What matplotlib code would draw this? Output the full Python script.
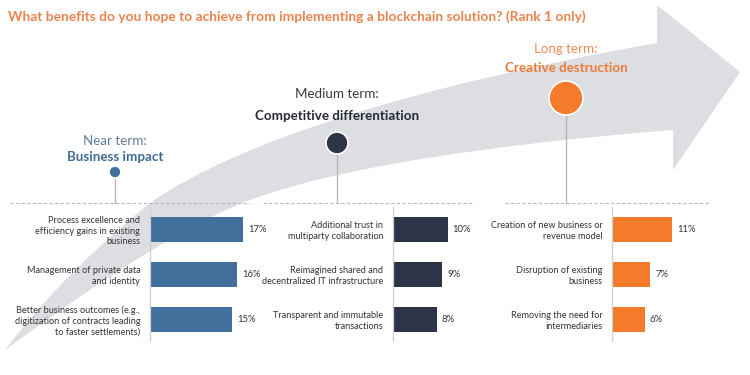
import matplotlib
matplotlib.use("Agg")
import matplotlib.pyplot as plt
from matplotlib.path import Path
from matplotlib.patches import PathPatch, Circle

# ---------------- data ----------------
title = "What benefits do you hope to achieve from implementing a blockchain solution? (Rank 1 only)"
stage_titles = ["Near term:", "Medium term:", "Long term:"]
stage_names = ["Business impact", "Competitive differentiation", "Creative destruction"]

near_labels = ["Process excellence and\nefficiency gains in existing\nbusiness",
               "Management of private data\nand identity",
               "Better business outcomes (e.g.,\ndigitization of contracts leading\nto faster settlements)"]
near_values = [17, 16, 15]

mid_labels = ["Additional trust in\nmultiparty collaboration",
              "Reimagined shared and\ndecentralized IT infrastructure",
              "Transparent and immutable\ntransactions"]
mid_values = [10, 9, 8]

long_labels = ["Creation of new business or\nrevenue model",
               "Disruption of existing\nbusiness",
               "Removing the need for\nintermediaries"]
long_values = [11, 7, 6]

# ---------------- style ----------------
FONT = ["Lato", "DejaVu Sans"]
plt.rcParams["font.family"] = FONT
W, H = 750, 375
bar_colors = ["#41709C", "#2D3447", "#F47B2C"]
title_color = "#E9844E"
stage_title_colors = ["#5E7D9B", "#3A3A3A", "#EE8A55"]
stage_name_colors = ["#3F6A93", "#262A35", "#EE7A38"]
arrow_color = "#DCDEE1"

fig = plt.figure(figsize=(7.5, 3.75), dpi=100)
bg = fig.add_axes([0, 0, 1, 1], zorder=0)
bg.set_xlim(0, W)
bg.set_ylim(H, 0)
bg.axis("off")

# ---------------- big curved arrow (decoration) ----------------
verts = [
    (5, 350),
    (50, 290), (110, 235), (150, 203),
    (240, 140), (420, 85), (657, 43),
    (657, 5),
    (740, 72),
    (673, 170),
    (673, 130),
    (480, 145), (330, 170), (250, 200),
    (170, 230), (60, 310), (5, 350),
    (5, 350),
]
codes = [Path.MOVETO,
         Path.CURVE4, Path.CURVE4, Path.CURVE4,
         Path.CURVE4, Path.CURVE4, Path.CURVE4,
         Path.LINETO, Path.LINETO, Path.LINETO, Path.LINETO,
         Path.CURVE4, Path.CURVE4, Path.CURVE4,
         Path.CURVE4, Path.CURVE4, Path.CURVE4,
         Path.CLOSEPOLY]
bg.add_patch(PathPatch(Path(verts, codes), facecolor=arrow_color, edgecolor="none", zorder=0))

# ---------------- title ----------------
bg.text(8, 17, title, color=title_color, fontsize=9.95, fontweight="bold",
        ha="left", va="center")

# ---------------- stage markers ----------------
stage_x = [115, 337, 566]
dot_y = [172, 143, 98]
dot_r = [6, 11, 17]
t1_y = [141, 94, 49]
t2_y = [157, 116, 68]
dash_spans = [(10, 250), (263, 472), (505, 710)]
dash_y = 203

for i in range(3):
    x = stage_x[i]
    bg.plot([x, x], [dot_y[i], dash_y], color="#B4B4B4", lw=0.9, zorder=2)
    bg.add_patch(Circle((x, dot_y[i]), dot_r[i], facecolor=bar_colors[i],
                        edgecolor="white", lw=1.2, zorder=3))
    bg.text(x, t1_y[i], stage_titles[i], color=stage_title_colors[i], fontsize=9.6,
            ha="center", va="center", zorder=4)
    bg.text(x, t2_y[i], stage_names[i], color=stage_name_colors[i], fontsize=9.6,
            fontweight="bold", ha="center", va="center", zorder=4)
    x0, x1 = dash_spans[i]
    bg.plot([x0, x1], [dash_y, dash_y], color="#B8B8B8", lw=0.8,
            linestyle=(0, (3, 2)), zorder=2)

# ---------------- bar groups ----------------
groups = [(near_labels, near_values), (mid_labels, mid_values), (long_labels, long_values)]
axis_x = [150, 393, 612]
ax_top, ax_bot = 207, 341
ax_w = 109  # pixels for 0..20 %

for i, (labels, values) in enumerate(groups):
    ax = fig.add_axes([axis_x[i] / W, (H - ax_bot) / H, ax_w / W, (ax_bot - ax_top) / H],
                      zorder=5)
    ax.patch.set_alpha(0)
    pos = list(range(len(values)))
    ax.barh(pos, values, height=0.555, color=bar_colors[i])
    ax.set_xlim(0, 20)
    ax.set_ylim(2.48, -0.5)
    for s in ["top", "right", "bottom"]:
        ax.spines[s].set_visible(False)
    ax.spines["left"].set_color("#CFCFCF")
    ax.spines["left"].set_linewidth(0.9)
    ax.set_xticks([])
    ax.set_yticks(pos)
    ax.set_yticklabels(labels, fontsize=6.6, color="#333333", linespacing=1.2)
    ax.tick_params(axis="y", length=0, pad=7)
    for p, v in zip(pos, values):
        ax.text(v + 0.95, p, f"{v}%", va="center", ha="left", fontsize=6.8, color="#333333")

fig.savefig("out.png", dpi=100)
